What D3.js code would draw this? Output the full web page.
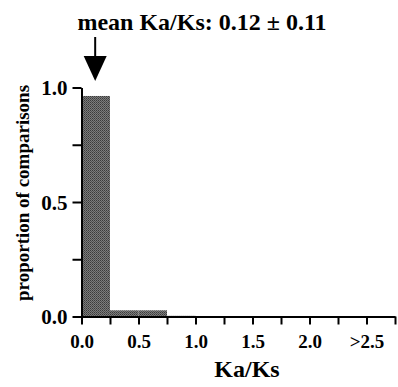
<!DOCTYPE html>
<html><head><meta charset="utf-8">
<script src="https://cdn.jsdelivr.net/npm/d3@7"></script>
<style>body{margin:0;background:#fff}svg{display:block}</style>
</head><body><svg id="c" width="398" height="387"></svg>
<script>
const binStarts = [0, 0.25, 0.5, 0.75];
const binWidth = 0.25;
const proportions = [0.963, 0.027, 0.027, 0.003];
const xTickValues = [0,0.25,0.5,0.75,1,1.25,1.5,1.75,2,2.25,2.5,2.75];
const xTickLabels = {"0":"0.0","0.5":"0.5","1":"1.0","1.5":"1.5","2":"2.0","2.5":">2.5"};
const yTickValues = [0,0.25,0.5,0.75,1];
const yTickLabels = {"0":"0.0","0.5":"0.5","1":"1.0"};
const meanLabel = "mean Ka/Ks: 0.12 \u00b1 0.11";
const meanArrowAt = 0.12;

const FONT = "'Liberation Serif', 'Times New Roman', Times, serif";
const svg = d3.select("#c");
const x = d3.scaleLinear().domain([0,2.75]).range([81.5,395]);
const y = d3.scaleLinear().domain([0,1]).range([316.5,87.5]);

const defs = svg.append("defs");
const pat = defs.append("pattern").attr("id","stip").attr("patternUnits","userSpaceOnUse").attr("width",2).attr("height",2);
pat.append("rect").attr("width",2).attr("height",2).attr("fill","#7c7c7c");
pat.append("rect").attr("width",1).attr("height",1).attr("fill","#3a3a3a");
pat.append("rect").attr("x",1).attr("y",1).attr("width",1).attr("height",1).attr("fill","#505050");

svg.selectAll("rect.bar").data(binStarts).enter().append("rect").attr("class","bar")
  .attr("x",d=>x(d)).attr("width",d=>x(d+binWidth)-x(d))
  .attr("y",(d,i)=>y(proportions[i])).attr("height",(d,i)=>y(0)-y(proportions[i]))
  .attr("fill","url(#stip)");

const xAxis = d3.axisBottom(x).tickValues(xTickValues).tickSize(8).tickSizeOuter(0)
  .tickFormat(d=>xTickLabels[String(d)]||"");
const gx = svg.append("g").attr("transform",`translate(0,${y(0)})`).call(xAxis);
gx.attr("font-family",null).attr("font-size",null);
gx.select(".domain").attr("stroke","#000").attr("stroke-width",2);
gx.selectAll(".tick line").attr("stroke","#000").attr("stroke-width",2);
gx.selectAll(".tick text").attr("dy",0).attr("y",31).style("font-size","19px");

const yAxis = d3.axisLeft(y).tickValues(yTickValues).tickSize(9).tickSizeOuter(0)
  .tickFormat(d=>yTickLabels[String(d)]||"");
const gy = svg.append("g").attr("transform",`translate(${x(0)},0)`).call(yAxis);
gy.attr("font-family",null).attr("font-size",null);
gy.select(".domain").attr("stroke","#000").attr("stroke-width",2);
gy.selectAll(".tick line").attr("stroke","#000").attr("stroke-width",2);
gy.selectAll(".tick text").attr("x",-14).attr("dy","0.35em").style("font-size","21px");

svg.selectAll(".tick text").style("font-family",FONT).style("font-weight","bold").attr("fill","#000");

svg.append("text").attr("x",247).attr("y",377).attr("text-anchor","middle")
  .style("font-family",FONT).style("font-weight","bold").style("font-size","24px").text("Ka/Ks");
svg.append("text").attr("transform","translate(29,193) rotate(-90)").attr("text-anchor","middle")
  .style("font-family",FONT).style("font-weight","bold").style("font-size","19px").text("proportion of comparisons");
svg.append("text").attr("x",202).attr("y",30).attr("text-anchor","middle")
  .style("font-family",FONT).style("font-weight","bold").style("font-size","24px").text(meanLabel);

const ax = x(meanArrowAt);
svg.append("line").attr("x1",ax).attr("x2",ax).attr("y1",37).attr("y2",58).attr("stroke","#000").attr("stroke-width",2);
svg.append("path").attr("d",`M${ax-11.5},56 L${ax+11.5},56 L${ax},81 Z`).attr("fill","#000");
</script></body></html>
